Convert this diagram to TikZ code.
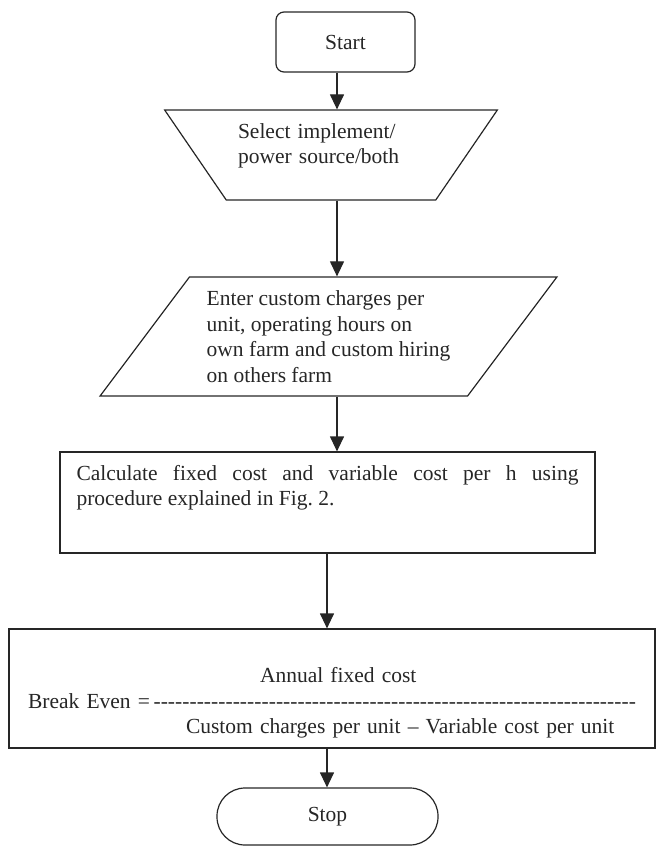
\documentclass[tikz,border=0pt]{standalone}
\usepackage{fontspec}
\setmainfont{Liberation Serif}
\usetikzlibrary{arrows.meta,shapes.geometric}

\begin{document}
\begin{tikzpicture}[x=1pt, y=-1pt,
  every node/.style={font=\fontsize{21.5}{25.5}\selectfont, inner sep=0pt, text=black!85},
  flowbox/.style={draw=black!85, line width=1.2pt},
  termbox/.style={flowbox, rectangle, rounded corners=8pt,
    minimum width=139pt, minimum height=60pt},
  selbox/.style={flowbox, trapezium, shape border rotate=180,
    trapezium left angle=49, trapezium right angle=49, trapezium stretches=true,
    minimum width=334pt, minimum height=90pt},
  iobox/.style={flowbox, trapezium,
    trapezium left angle=49.5, trapezium right angle=130.5, trapezium stretches=true,
    minimum width=459pt, minimum height=119pt},
  procbox/.style={flowbox, rectangle},
  conn/.style={-{Triangle[length=15pt, width=14pt]}, line width=1.2pt, draw=black!85}
]
\useasboundingbox (0,0) rectangle (657,846);

\node[termbox] (start) at (345.5,42) {Start};
\node[selbox, text width=186pt, align=left, text depth=48pt] (sel) at (331,155)
  {Select implement/\\power source/both};
\node[iobox, align=left] (inp) at (328.5,336.5)
  {Enter custom charges per\\unit, operating hours on\\own farm and custom hiring\\on others farm};
\node[procbox, minimum width=535pt, minimum height=101pt,
  text width=502pt, align=justify, text depth=60pt] (calc) at (327.5,502.5)
  {Calculate fixed cost and variable cost per h using\linebreak procedure explained in Fig.~2.};
\node[procbox, minimum width=646pt, minimum height=119pt,
  text width=608pt, align=left, text height=44pt] (be) at (332,688.5)
  {\hspace*{232pt}Annual fixed cost\\
   Break Even =\,\xleaders\hbox{-}\hfill\mbox{}\\
   \hspace*{158pt}Custom charges per unit -- Variable cost per unit};
\node[termbox, rounded corners=28pt, minimum width=221pt, minimum height=57pt]
  (stop) at (327.5,816.5) {Stop};

% arrow lines
\coordinate (upper) at (337,0);
\coordinate (lower) at (327,0);
\draw[conn] (start.south -| upper) -- (sel.north -| upper);
\draw[conn] (sel.south -| upper) -- (inp.north -| upper);
\draw[conn] (inp.south -| upper) -- (calc.north -| upper);
\draw[conn] (calc.south -| lower) -- (be.north -| lower);
\draw[conn] (be.south -| lower) -- (stop.north -| lower);
\end{tikzpicture}
\end{document}
